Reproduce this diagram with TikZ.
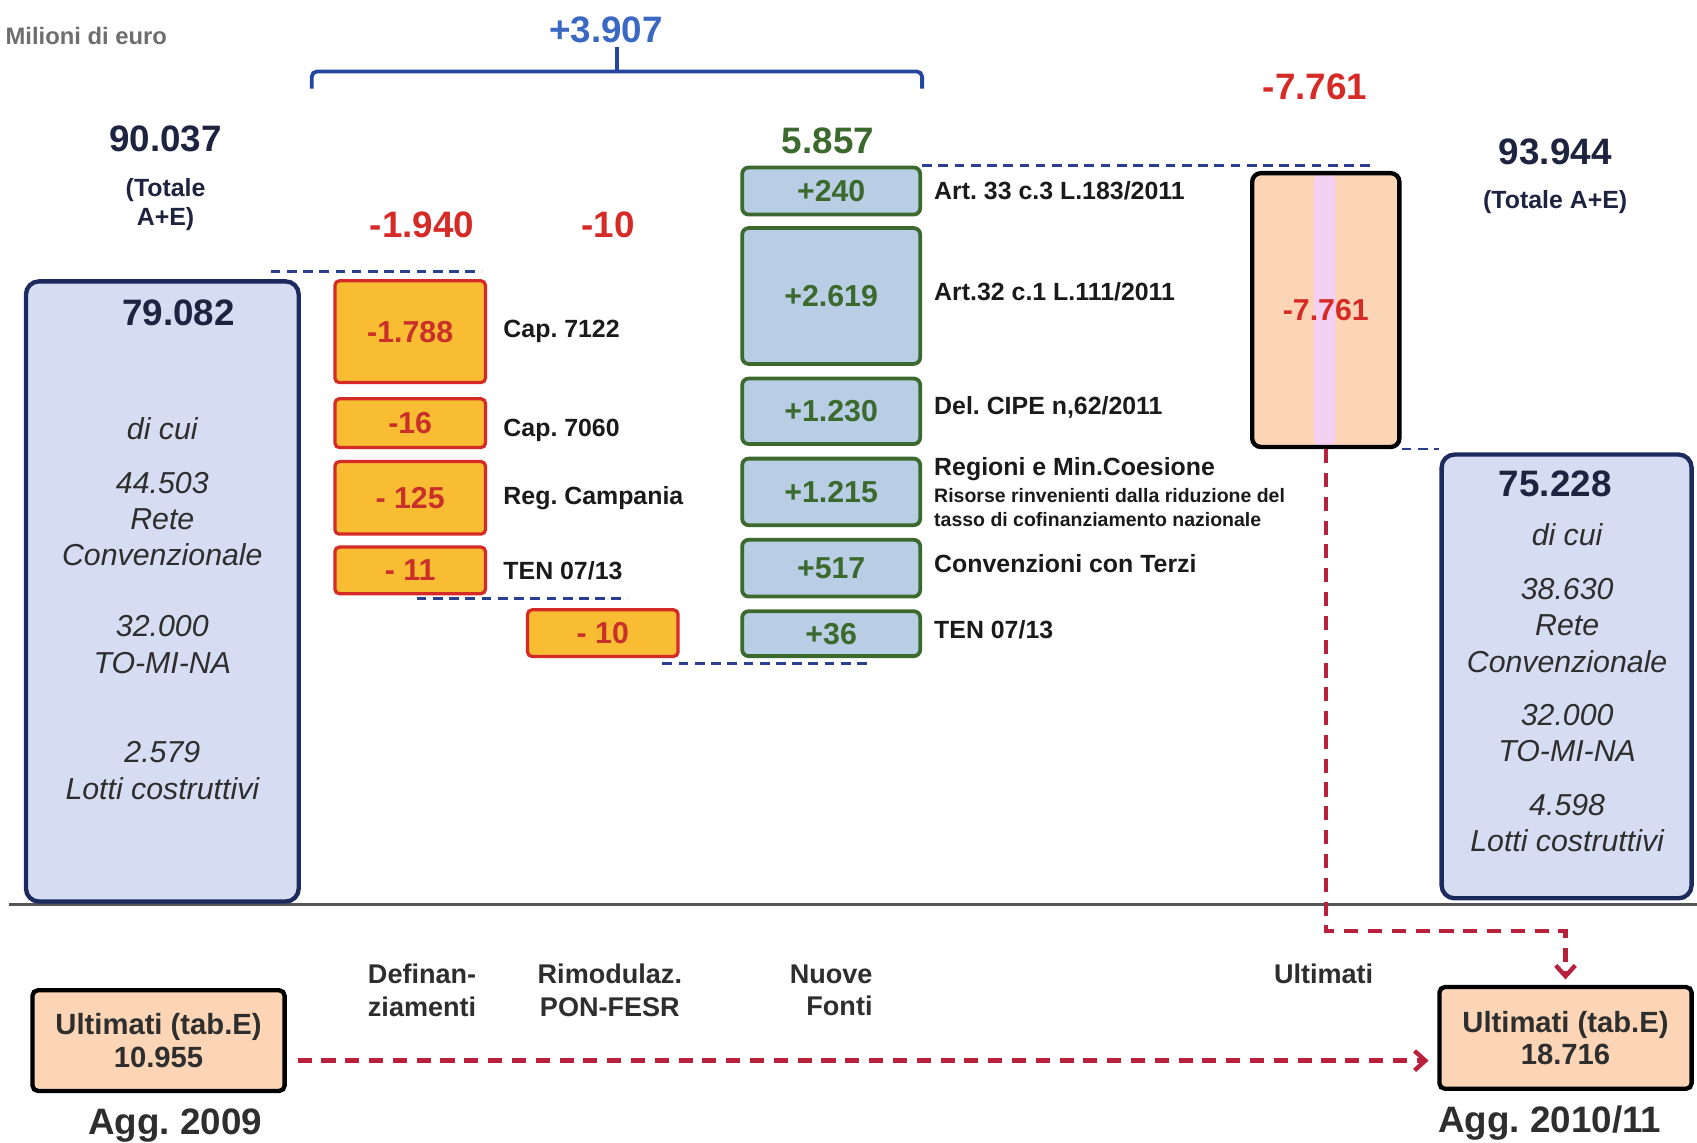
\documentclass[tikz,border=0pt]{standalone}
\usepackage{fontspec}
\setmainfont{Liberation Sans}
\usetikzlibrary{positioning,calc,arrows.meta}
\frenchspacing

\definecolor{navytxt}{HTML}{1E2340}
\definecolor{navyline}{HTML}{1C2A5E}
\definecolor{boxblue}{HTML}{D6DCF1}
\definecolor{cutred}{HTML}{D52A26}
\definecolor{cuttxt}{HTML}{C9302A}
\definecolor{cutfill}{HTML}{F8BD33}
\definecolor{addgreen}{HTML}{3C6A2E}
\definecolor{addfill}{HTML}{B9CDE5}
\definecolor{peach}{HTML}{FBD5B5}
\definecolor{stripepink}{HTML}{F4D0F2}
\definecolor{sumblue}{HTML}{3A68C2}
\definecolor{bracecol}{HTML}{2446A0}
\definecolor{levelcol}{HTML}{2B3F8F}
\definecolor{flowred}{HTML}{B8203C}
\definecolor{greytxt}{HTML}{6E6E6E}
\definecolor{labeltxt}{HTML}{1A1A1A}
\definecolor{darktxt}{HTML}{2E2E2E}
\definecolor{rulegrey}{HTML}{555555}

\newcommand{\fsz}[2]{\fontsize{#1}{#2}\selectfont}

\begin{document}
\begin{tikzpicture}[x=1pt,y=-1pt,
    total/.style={font=\bfseries\fsz{34}{40}},
    bigbox/.style={draw=navyline,line width=4pt,fill=boxblue,rounded corners=12pt},
    boxtext/.style={font=\itshape\fsz{28}{33.5},text=darktxt,align=center},
    cutbox/.style={draw=cutred,line width=3pt,fill=cutfill,rounded corners=4pt,
        minimum width=139pt,inner sep=0pt,text=cuttxt,font=\bfseries\fsz{28}{32}},
    addbox/.style={draw=addgreen,line width=3.5pt,fill=addfill,rounded corners=6pt,
        minimum width=164.5pt,inner sep=0pt,text=addgreen,font=\bfseries\fsz{28}{32}},
    ultbox/.style={draw=black,line width=4pt,fill=peach,rounded corners=8pt,inner sep=0pt},
    lbl/.style={anchor=west,inner sep=0pt,font=\bfseries\fsz{23}{27},text=labeltxt,align=left},
    lblsmall/.style={anchor=west,inner sep=0pt,font=\bfseries\fsz{18}{22},text=labeltxt,align=left},
    coltitle/.style={font=\bfseries\fsz{25}{30},text=darktxt,align=center},
    level/.style={draw=levelcol,line width=2.5pt,dash pattern=on 9pt off 6pt},
    flow/.style={draw=flowred,line width=4pt,dash pattern=on 13pt off 9pt,
        -{Straight Barb[length=10pt,width=18pt]}}]

\useasboundingbox[fill=white] (0,0) rectangle (1568,1056);

% base line
\draw[rulegrey,line width=3pt] (8,836) -- (1568,836);

% headings
\node[anchor=west,inner sep=0pt,font=\bfseries\fsz{22}{26},text=greytxt] (unit) at (5,33) {Milioni di euro};
\node[total,text=sumblue] (sum) at (560,28) {+3.907};
\coordinate (tick) at (570,66);
\draw[bracecol,line width=3.5pt,rounded corners=5pt] (288,82) |- (852,66) -- (852,82);
\draw[bracecol,line width=3.5pt] (tick) -- (tick |- sum.south);

\node[total,text=navytxt] (tot09) at (153,128) {90.037};
\node[font=\bfseries\fsz{23}{26},text=navytxt,align=center] (tot09n) at (153,189) {(Totale\\A+E)};
\node[total,text=cutred] (defin) at (390,208) {-1.940};
\node[total,text=cutred] (rimod) at (562,208) {-10};
\node[total,text=addgreen] (nuove) at (765,130) {5.857};
\node[total,text=cutred] (ultim) at (1215,80) {-7.761};
\node[total,text=navytxt] (tot11) at (1437,140) {93.944};
\node[font=\bfseries\fsz{23}{26},text=navytxt] (tot11n) at (1437,187) {(Totale A+E)};

% left total box
\node[bigbox,minimum width=252pt,minimum height=573pt] (lbox) at (150,546.5) {};
\node[total,text=navytxt] (lsum) at (165,289) {79.082};
\node[boxtext] (lcui) at (150,396) {di cui};
\node[boxtext] (lrete) at (150,479.5) {44.503\\Rete\\Convenzionale};
\node[boxtext] (ltmn) at (150,595.5) {32.000\\TO-MI-NA};
\node[boxtext] (llot) at (150,712) {2.579\\Lotti costruttivi};

% definanziamenti
\node[cutbox,minimum height=94pt] (r1) at (379,306.5) {-1.788};
\node[cutbox,minimum height=45pt,below=12pt of r1] (r2) {-16};
\node[cutbox,minimum height=67pt,below=10pt of r2] (r3) {- 125};
\node[cutbox,minimum height=43pt,below=9pt of r3] (r4) {- 11};
\node[cutbox,minimum height=43pt] (r5) at (557,585) {- 10};
\node[lbl,right=15pt of r1] (lr1) {Cap. 7122};
\node[lbl,right=15pt of r2,yshift=-7pt] (lr2) {Cap. 7060};
\node[lbl,right=15pt of r3] (lr3) {Reg. Campania};
\node[lbl,right=15pt of r4] (lr4) {TEN 07/13};

% nuove fonti
\node[addbox,minimum height=43.5pt] (g1) at (768,176.5) {+240};
\node[addbox,minimum height=125.5pt,below=9pt of g1] (g2) {+2.619};
\node[addbox,minimum height=60.5pt,below=10pt of g2] (g3) {+1.230};
\node[addbox,minimum height=61.5pt,below=10pt of g3] (g4) {+1.215};
\node[addbox,minimum height=52.5pt,below=10pt of g4] (g5) {+517};
\node[addbox,minimum height=41.5pt,below=10pt of g5] (g6) {+36};
\node[lbl,right=11pt of g1] (lg1) {Art. 33 c.3 L.183/2011};
\node[lbl,right=11pt of g2,yshift=4pt] (lg2) {Art.32 c.1 L.111/2011};
\node[lbl,right=11pt of g3,yshift=4pt] (lg3) {Del. CIPE n,62/2011};
\node[lbl,right=11pt of g4,yshift=21.5pt] (lg4) {Regioni e Min.Coesione};
\node[lblsmall] (lg4b) at (863,469) {Risorse rinvenienti dalla riduzione del\\tasso di cofinanziamento nazionale};
\node[lbl,right=11pt of g5,yshift=4pt] (lg5) {Convenzioni con Terzi};
\node[lbl,right=11pt of g6,yshift=4pt] (lg6) {TEN 07/13};

% ultimati
\node[ultbox,minimum width=136pt,minimum height=253pt,text=cutred,font=\bfseries\fsz{28}{32},
    path picture={\fill[stripepink] ([xshift=-11pt]path picture bounding box.north)
        rectangle ([xshift=9pt]path picture bounding box.south);}] (ult) at (1225,286.5) {-7.761};

% right total box
\node[bigbox,minimum width=231pt,minimum height=410pt] (rbox) at (1447.5,625) {};
\node[total,text=navytxt] (rsum) at (1437,447) {75.228};
\node[boxtext] (rcui) at (1448,494) {di cui};
\node[boxtext] (rrete) at (1448,578) {38.630\\Rete\\Convenzionale};
\node[boxtext] (rtmn) at (1448,677) {32.000\\TO-MI-NA};
\node[boxtext] (rlot) at (1448,760.5) {4.598\\Lotti costruttivi};

% level lines
\draw[level] ([xshift=-28pt,yshift=7pt]lbox.north east) -- ([xshift=-5pt,yshift=7pt]r1.north east);
\draw[level] ([xshift=6pt,yshift=-3pt]r4.south) -- ([xshift=23pt,yshift=9pt]r5.north);
\draw[level] ([xshift=-16pt,yshift=-5pt]r5.south east) -- ([xshift=-47pt,yshift=-5pt]g6.south east);
\draw[level] (g1.north east) -- ([xshift=45pt,yshift=5pt]ult.north);
\draw[level] (ult.south east) -- (ult.south east -| rbox.north west);

% column titles
\node[coltitle] (cdef) at (390,915) {Definan-\\ziamenti};
\node[coltitle] (crim) at (563.5,915) {Rimodulaz.\\PON-FESR};
\node[coltitle,align=right] (cnuo) at (768,915) {Nuove\\Fonti};
\node[coltitle] (cult) at (1223,900) {Ultimati};

% completed works
\node[ultbox,minimum width=233pt,minimum height=93pt,rounded corners=5pt,align=center,
    text=darktxt,font=\bfseries\fsz{27}{30}] (lb) at (146.5,961.5) {Ultimati (tab.E)\\10.955};
\node[ultbox,minimum width=233pt,minimum height=94pt,rounded corners=5pt,align=center,
    text=darktxt,font=\bfseries\fsz{27}{30}] (rb) at (1446.5,959) {Ultimati (tab.E)\\18.716};
\node[font=\bfseries\fsz{34}{40},text=darktxt] (agg09) at (162,1040) {Agg. 2009};
\node[font=\bfseries\fsz{34}{40},text=darktxt] (agg11) at (1432,1038) {Agg. 2010/11};

\draw[flow] (ult.south) -- ++(0,445) -| ([yshift=5pt]rb.north);
\draw[flow] ($(lb.east)+(10,18.5)$) -- ($(rb.west |- lb.east)+(-8,18.5)$);

\end{tikzpicture}
\end{document}
